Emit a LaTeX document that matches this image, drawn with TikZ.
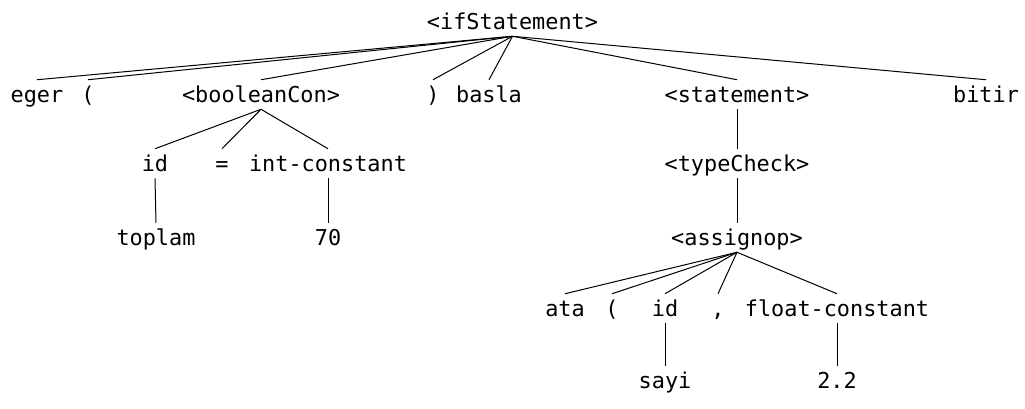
\documentclass[tikz,border=0pt]{standalone}
\usepackage{fontspec}
\setmonofont{DejaVu Sans Mono}
\begin{document}
\begin{tikzpicture}[x=0.75pt,y=-0.75pt,
  tok/.style={anchor=base,inner sep=0pt,text height=16.5pt,text depth=5.25pt,font=\ttfamily\fontsize{16.4pt}{18pt}\selectfont},
  edge/.style={line width=0.75pt,draw=black}]
\useasboundingbox (0,0) rectangle (1025,408);
% level 0
\node[tok] (if) at (512.5,29) {<ifStatement>};
% level 1
\node[tok] (eger) at (37,102) {eger};
\node[tok] (lp) at (88,102) {(};
\node[tok] (bc) at (261,102) {<booleanCon>};
\node[tok] (rp) at (433,102) {)};
\node[tok] (basla) at (489,102) {basla};
\node[tok] (st) at (737,102) {<statement>};
\node[tok] (bitir) at (986,102) {bitir};
% level 2
\node[tok] (id1) at (155,171) {id};
\node[tok] (eq) at (222,171) {=};
\node[tok] (ic) at (328,171) {int-constant};
\node[tok] (tc) at (737,171) {<typeCheck>};
% level 3
\node[tok] (toplam) at (156,245) {toplam};
\node[tok] (n70) at (328,245) {70};
\node[tok] (as) at (737,245) {<assignop>};
% level 4
\node[tok] (ata) at (565,316) {ata};
\node[tok] (lp2) at (612,316) {(};
\node[tok] (id2) at (665,316) {id};
\node[tok] (cm) at (718,316) {,};
\node[tok] (fc) at (837,316) {float-constant};
% level 5
\node[tok] (sayi) at (665,388) {sayi};
\node[tok] (n22) at (837,388) {2.2};
% edges
\foreach \c in {eger,lp,bc,rp,basla,st,bitir} \draw[edge] (if.south) -- (\c.north);
\foreach \c in {id1,eq,ic} \draw[edge] (bc.south) -- (\c.north);
\draw[edge] (st.south) -- (tc.north);
\draw[edge] (id1.south) -- (toplam.north);
\draw[edge] (ic.south) -- (n70.north);
\draw[edge] (tc.south) -- (as.north);
\foreach \c in {ata,lp2,id2,cm,fc} \draw[edge] (as.south) -- (\c.north);
\draw[edge] (id2.south) -- (sayi.north);
\draw[edge] (fc.south) -- (n22.north);
\end{tikzpicture}
\end{document}
